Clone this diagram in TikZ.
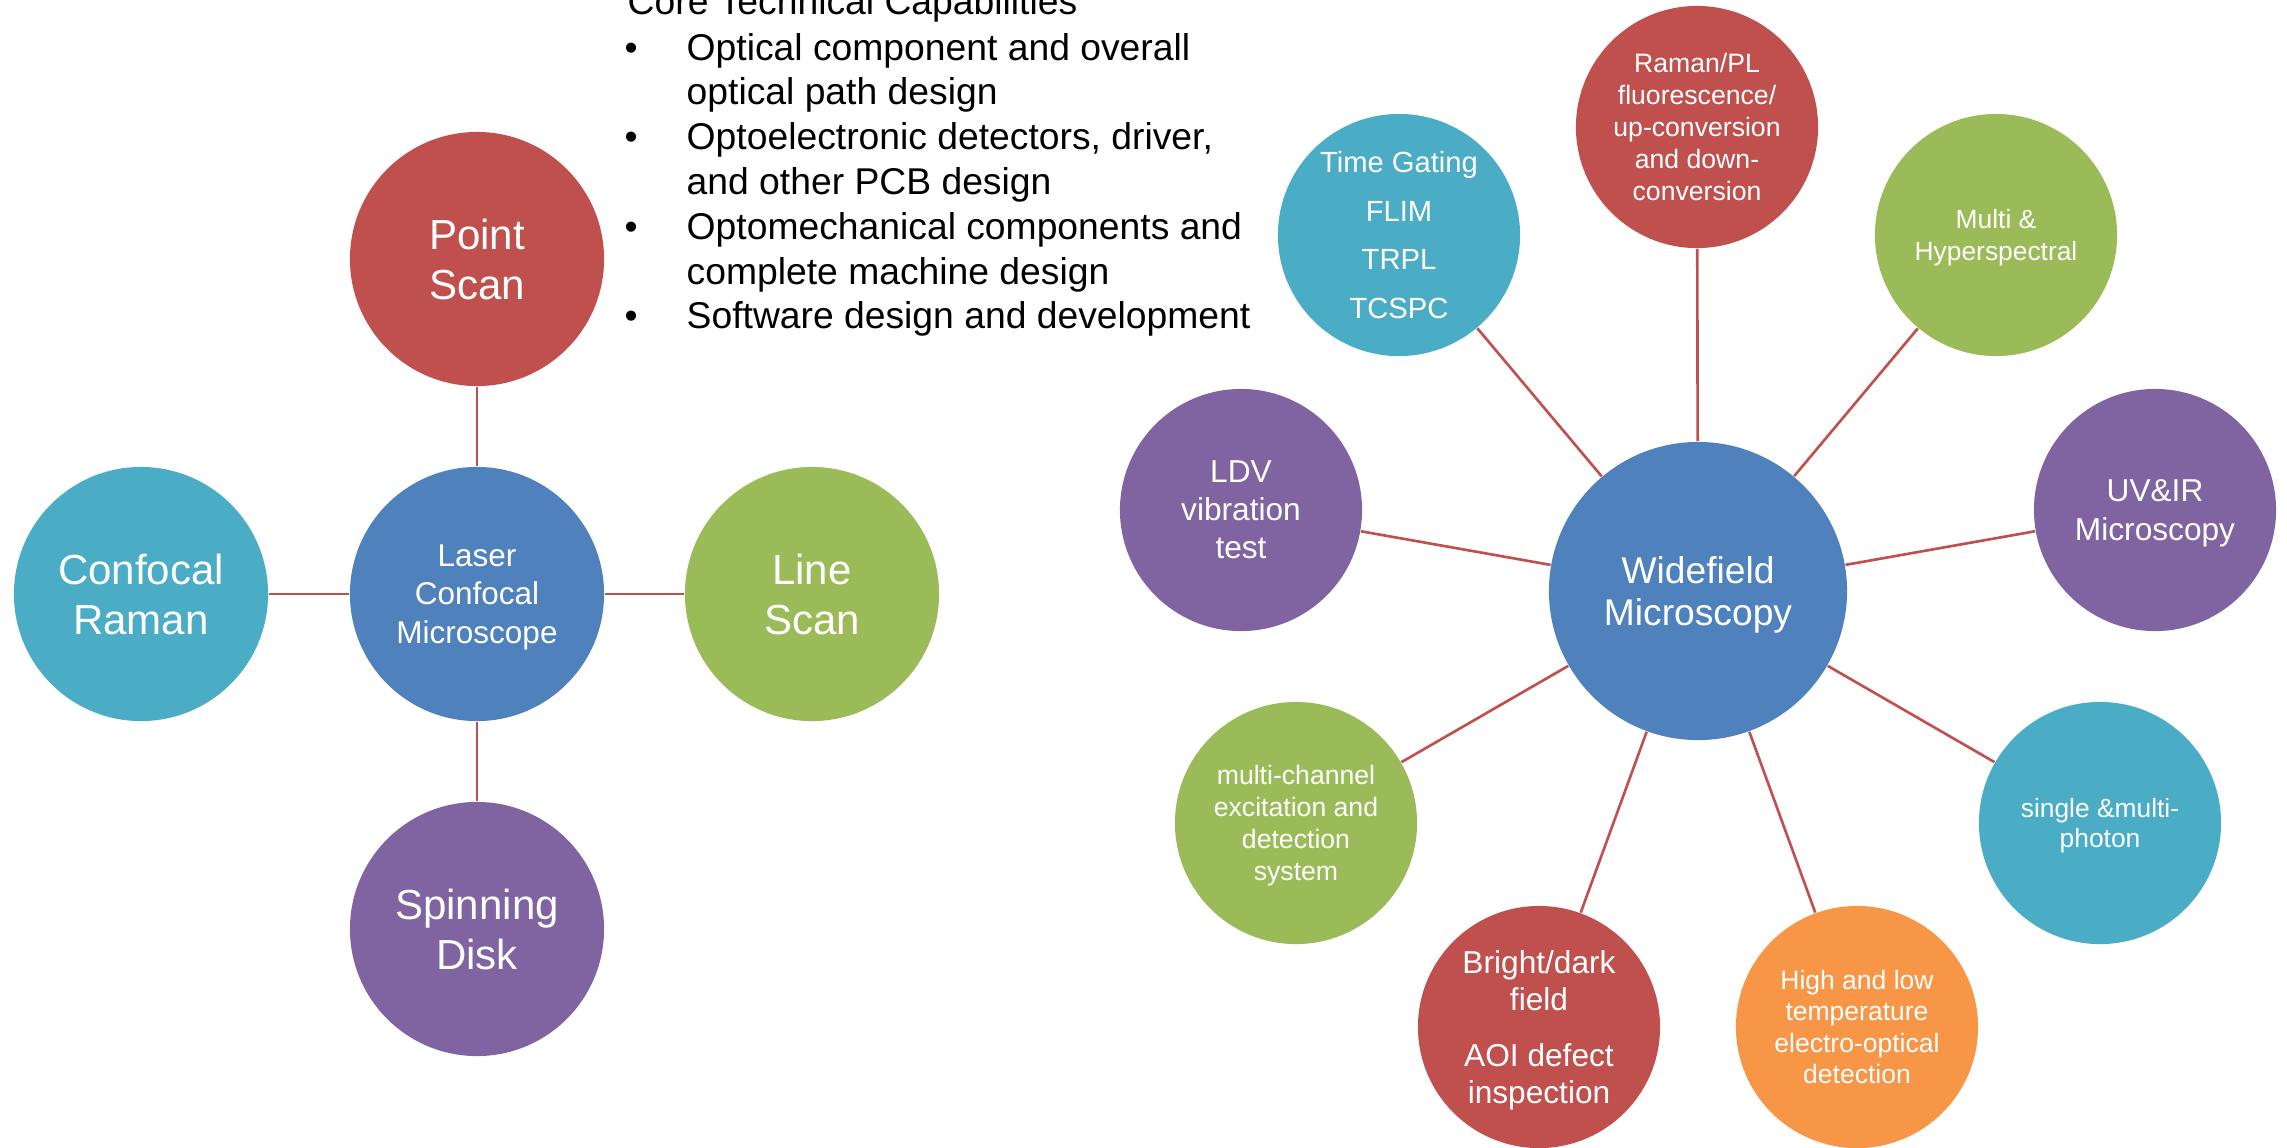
\documentclass[tikz,border=0pt]{standalone}
\usepackage{fontspec}
\setmainfont{Liberation Sans}
\definecolor{cblue}{HTML}{4F81BD}
\definecolor{cred}{HTML}{C0504D}
\definecolor{cgreen}{HTML}{9BBB59}
\definecolor{cpurple}{HTML}{8064A2}
\definecolor{caqua}{HTML}{4BACC6}
\definecolor{corange}{HTML}{F79646}
\newcommand\nodepth[1]{\raisebox{0pt}[\height][0pt]{#1}}
\begin{document}
\begin{tikzpicture}[x=0.01cm,y=-0.01cm,
  bub/.style={circle,inner sep=0pt,minimum size=#1},
  conn/.style={draw=cred,line width=0.75pt},
  lab/.style={text=white,align=center,inner sep=0pt},
  body/.style={anchor=base west,inner sep=0pt,font=\fontsize{10.6}{12.75}\selectfont}]
\useasboundingbox (0,0) rectangle (2287,1147);
% left group
\node[bub=2.54cm,fill=cblue] (lc) at (477,594) {};
\node[bub=2.54cm,fill=cred] (ps) at (477,259) {};
\node[bub=2.54cm,fill=caqua] (cr) at (141,594) {};
\node[bub=2.54cm,fill=cgreen] (ls) at (812,594) {};
\node[bub=2.54cm,fill=cpurple] (sd) at (477,929) {};
\draw[conn] (lc) -- (ps);
\draw[conn] (lc) -- (cr);
\draw[conn] (lc) -- (ls);
\draw[conn] (lc) -- (sd);
% right group
\node[bub=2.98cm,fill=cblue] (wf) at (1698,591) {};
\node[bub=2.42cm,fill=caqua] (tg) at (1399,235) {};
\node[bub=2.42cm,fill=cred] (rp) at (1697,127) {};
\node[bub=2.42cm,fill=cgreen] (mh) at (1996,235) {};
\node[bub=2.42cm,fill=cpurple] (ldv) at (1241,510) {};
\node[bub=2.42cm,fill=cpurple] (uv) at (2155,510) {};
\node[bub=2.42cm,fill=cgreen] (mc) at (1296,823) {};
\node[bub=2.42cm,fill=caqua] (sm) at (2100,823) {};
\node[bub=2.42cm,fill=cred] (bd) at (1539,1027) {};
\node[bub=2.42cm,fill=corange] (hl) at (1857,1027) {};
\foreach \n in {tg,rp,mh,ldv,uv,mc,sm,bd,hl} {\draw[conn] (wf) -- (\n);}
% labels
\node[lab,font=\fontsize{11.95}{14.2}\selectfont] (ps-t) at (ps.center) {Point\\Scan};
\node[lab,font=\fontsize{11.95}{14.2}\selectfont] (cr-t) at (cr.center) {Confocal\\Raman};
\node[lab,font=\fontsize{11.95}{14.2}\selectfont] (ls-t) at (ls.center) {Line\\Scan};
\node[lab,font=\fontsize{11.95}{14.2}\selectfont] (sd-t) at (sd.center) {Spinning\\Disk};
\node[lab,font=\fontsize{8.96}{10.95}\selectfont] (lc-t) at (lc.center) {Laser\\Confocal\\\nodepth{Microscope}};
\node[lab,font=\fontsize{10.58}{12.2}\selectfont] (wf-t) at (wf.center) {Widefield\\\nodepth{Microscopy}};
\node[lab,font=\fontsize{8.3}{13.9}\selectfont] (tg-t) at (tg.center) {Time Gating\\FLIM\\TRPL\\TCSPC};
\node[lab,font=\fontsize{7.57}{9.1}\selectfont] (rp-t) at (rp.center) {Raman/PL\\fluorescence/\\up-conversion\\and down-\\conversion};
\node[lab,font=\fontsize{7.5}{8.93}\selectfont] (mh-t) at (mh.center) {Multi \&\\\nodepth{Hyperspectral}};
\node[lab,font=\fontsize{9.0}{10.8}\selectfont] (ldv-t) at (ldv.center) {LDV\\vibration\\test};
\node[lab,font=\fontsize{9.0}{10.9}\selectfont] (uv-t) at (uv.center) {UV\&IR\\\nodepth{Microscopy}};
\node[lab,font=\fontsize{7.57}{9.05}\selectfont] (mc-t) at (mc.center) {multi-channel\\excitation and\\detection\\\nodepth{system}};
\node[lab,font=\fontsize{7.5}{8.7}\selectfont] (sm-t) at (sm.center) {single \&multi-\\\nodepth{photon}};
\node[lab,font=\fontsize{9.0}{10.67}\selectfont] (bd-t) at (bd.center) {Bright/dark\\field\\[4.98pt]AOI defect\\\nodepth{inspection}};
\node[lab,font=\fontsize{7.54}{8.96}\selectfont] (hl-t) at (hl.center) {High and low\\temperature\\electro-optical\\detection};
% bullet text
\node[body] (t0) at (627,14) {Core Technical Capabilities};
\node[body] (b1) at (624,60) {•};
\node[body] (l1) at (686,60) {Optical component and overall};
\node[body] (l2) at (686,104.8) {optical path design};
\node[body] (b2) at (624,149.6) {•};
\node[body] (l3) at (686,149.6) {Optoelectronic detectors, driver,};
\node[body] (l4) at (686,194.4) {and other PCB design};
\node[body] (b3) at (624,239.2) {•};
\node[body] (l5) at (686,239.2) {Optomechanical components and};
\node[body] (l6) at (686,284) {complete machine design};
\node[body] (b4) at (624,328.8) {•};
\node[body] (l7) at (686,328.8) {Software design and development};
\end{tikzpicture}
\end{document}
